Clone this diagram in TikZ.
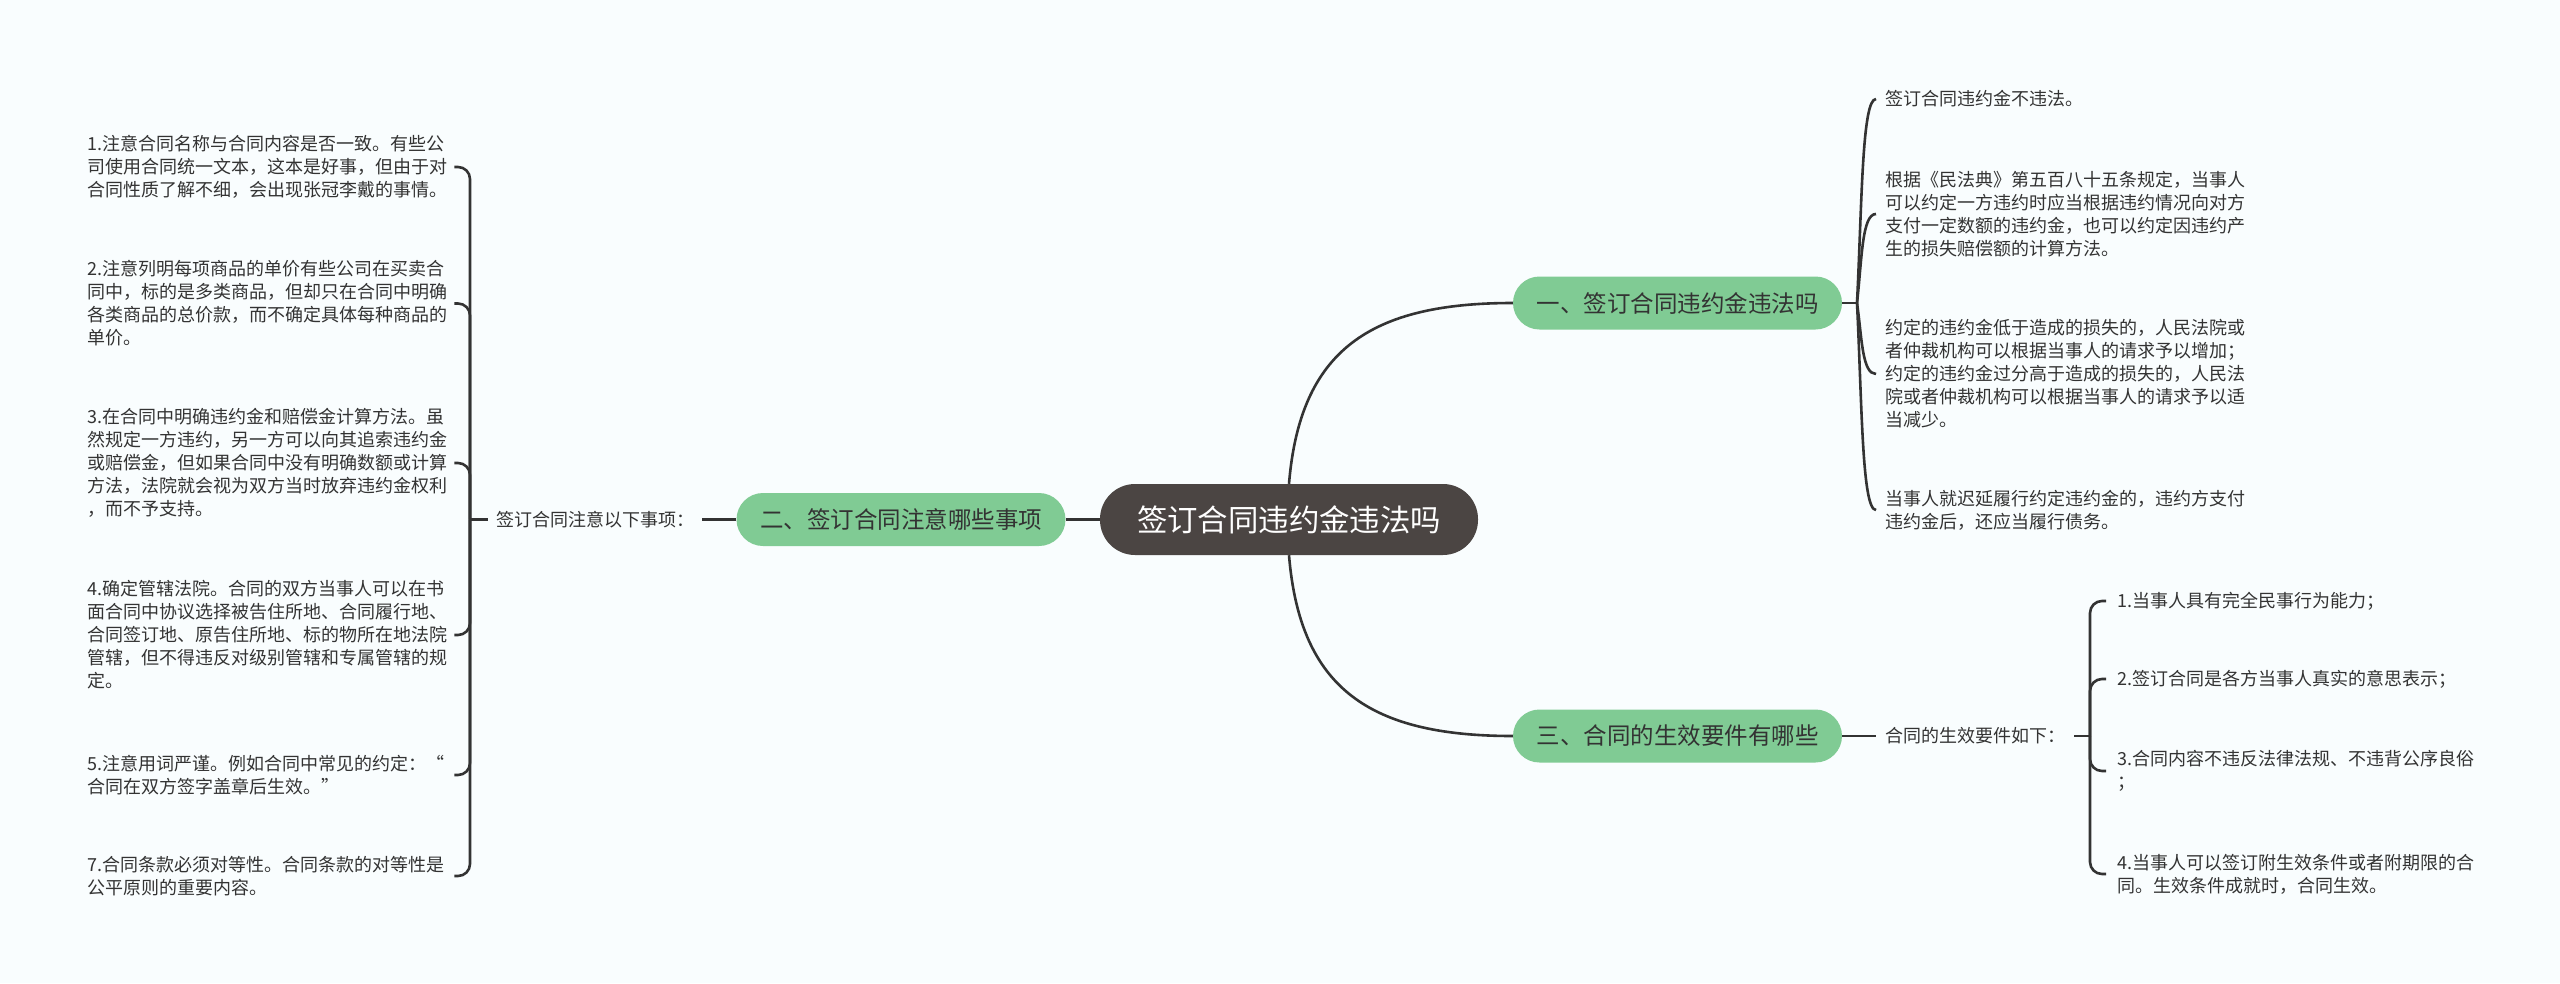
\documentclass[tikz,border=0pt]{standalone}
\usepackage{fontspec}
\setmainfont{Noto Sans CJK SC}
\definecolor{bgc}{RGB}{249,253,254}
\definecolor{mmgreen}{RGB}{128,203,148}
\definecolor{darkc}{RGB}{75,69,67}
\definecolor{linec}{RGB}{51,51,51}
\definecolor{txtc}{RGB}{51,51,51}
\begin{document}
\begin{tikzpicture}[x=1pt,y=-1pt,
  central/.style={fill=darkc, text=white, rounded corners=35pt, minimum width=378pt, minimum height=71pt, inner sep=0pt, font=\fontsize{30.4}{36}\selectfont},
  topic/.style={fill=mmgreen, text=txtc, rounded corners=26.5pt, minimum width=329pt, minimum height=53pt, inner sep=0pt, font=\fontsize{23.5}{28}\selectfont},
  leaf/.style={text=txtc, font=\fontsize{18}{23}\selectfont, align=left, inner ysep=0pt},
  lefttext/.style={leaf, text width=367pt, inner xsep=0pt, anchor=west},
  conn/.style={draw=linec, line width=2.6pt},
  bracket/.style={conn, rounded corners=12pt}]
\fill[bgc] (0,0) rectangle (2560,983);
\useasboundingbox (0,0) rectangle (2560,983);

% main nodes
\node[central] (c) at (1289,519.5) {签订合同违约金违法吗};
\node[topic] (t1) at (1677.5,303) {一、签订合同违约金违法吗};
\node[topic] (t2) at (901,519.5) {二、签订合同注意哪些事项};
\node[topic] (t3) at (1677.5,736) {三、合同的生效要件有哪些};

% labels
\node[leaf, inner xsep=8pt] (l2) at (595,519.5) {签订合同注意以下事项：};
\node[leaf, inner xsep=9pt] (l3) at (1975,736) {合同的生效要件如下：};

% left items
\node[lefttext] (a1) at (87,167) {1.注意合同名称与合同内容是否一致。有些公\\司使用合同统一文本，这本是好事，但由于对\\合同性质了解不细，会出现张冠李戴的事情。};
\node[lefttext] (a2) at (87,303.5) {2.注意列明每项商品的单价有些公司在买卖合\\同中，标的是多类商品，但却只在合同中明确\\各类商品的总价款，而不确定具体每种商品的\\单价。};
\node[lefttext] (a3) at (87,463) {3.在合同中明确违约金和赔偿金计算方法。虽\\然规定一方违约，另一方可以向其追索违约金\\或赔偿金，但如果合同中没有明确数额或计算\\方法，法院就会视为双方当时放弃违约金权利\\，而不予支持。};
\node[lefttext] (a4) at (87,635) {4.确定管辖法院。合同的双方当事人可以在书\\面合同中协议选择被告住所地、合同履行地、\\合同签订地、原告住所地、标的物所在地法院\\管辖，但不得违反对级别管辖和专属管辖的规\\定。};
\node[lefttext] (a5) at (87,775) {5.注意用词严谨。例如合同中常见的约定：“\\合同在双方签字盖章后生效。”};
\node[lefttext] (a7) at (87,876) {7.合同条款必须对等性。合同条款的对等性是\\公平原则的重要内容。};

% right top items
\node[leaf, inner xsep=9pt, anchor=west] (b1) at (1876,99) {签订合同违约金不违法。};
\node[leaf, inner xsep=9pt, anchor=west] (b2) at (1876,214) {根据《民法典》第五百八十五条规定，当事人\\可以约定一方违约时应当根据违约情况向对方\\支付一定数额的违约金，也可以约定因违约产\\生的损失赔偿额的计算方法。};
\node[leaf, inner xsep=9pt, anchor=west] (b3) at (1876,374) {约定的违约金低于造成的损失的，人民法院或\\者仲裁机构可以根据当事人的请求予以增加；\\约定的违约金过分高于造成的损失的，人民法\\院或者仲裁机构可以根据当事人的请求予以适\\当减少。};
\node[leaf, inner xsep=9pt, anchor=west] (b4) at (1876,510) {当事人就迟延履行约定违约金的，违约方支付\\违约金后，还应当履行债务。};

% right bottom items
\node[leaf, inner xsep=11pt, anchor=west] (d1) at (2106,601) {1.当事人具有完全民事行为能力；};
\node[leaf, inner xsep=11pt, anchor=west] (d2) at (2106,679) {2.签订合同是各方当事人真实的意思表示；};
\node[leaf, inner xsep=11pt, anchor=west] (d3) at (2106,771) {3.合同内容不违反法律法规、不违背公序良俗\\；};
\node[leaf, inner xsep=11pt, anchor=west] (d4) at (2106,874) {4.当事人可以签订附生效条件或者附期限的合\\同。生效条件成就时，合同生效。};

% junction coordinates
\coordinate (ls) at (470,519.5);
\coordinate (rt) at (1857,303);
\coordinate (rs) at (2090,736);

% main connectors
\draw[conn] (t2.east) -- (c.west);
\draw[conn] (c.north) .. controls (1300,350) and (1370,303) .. (t1.west);
\draw[conn] (c.south) .. controls (1300,689) and (1370,736) .. (t3.west);

% left branch
\draw[conn] (t2.west) -- (l2.east);
\draw[conn] (l2.west) -- (ls);
\foreach \n in {a1,a2,a3,a4,a5,a7} {\draw[bracket] (ls) |- (\n.east);}

% right top branch
\draw[conn] (t1.east) -- (rt);
\draw[conn] (rt) .. controls (1862,201) and (1862,99) .. (b1.west);
\draw[conn] (rt) .. controls (1862,258) and (1862,214) .. (b2.west);
\draw[conn] (rt) .. controls (1862,338) and (1862,374) .. (b3.west);
\draw[conn] (rt) .. controls (1862,406) and (1862,510) .. (b4.west);

% right bottom branch
\draw[conn] (t3.east) -- (l3.west);
\draw[conn] (l3.east) -- (rs);
\foreach \n in {d1,d2,d3,d4} {\draw[bracket] (rs) |- (\n.west);}
\end{tikzpicture}
\end{document}
